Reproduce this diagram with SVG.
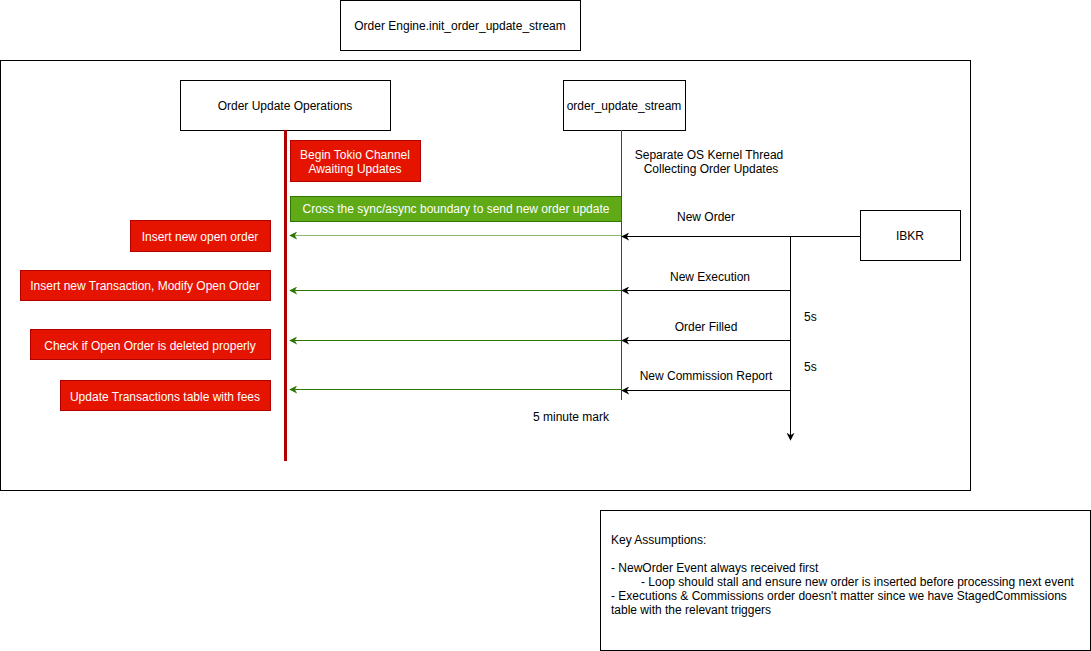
<svg xmlns="http://www.w3.org/2000/svg" width="1091" height="651" viewBox="0 0 1091 651">
<defs>
<style>
text{font-family:"Liberation Sans",Arial,sans-serif;font-size:12px;fill:#000}
.c{text-anchor:middle}
.w{fill:#fff}
.box{fill:#fff;stroke:#000;stroke-width:1}
.red{fill:#E51400;stroke:#B20000;stroke-width:1}
.grn{fill:#60A917;stroke:#2D7600;stroke-width:1}
.ga{stroke:#2D7600;stroke-width:1;fill:none;marker-end:url(#ag)}
.ba{stroke:#000;stroke-width:1;fill:none;marker-end:url(#ab)}
</style>
<marker id="ag" viewBox="0 0 10 10" refX="9" refY="5" markerWidth="8" markerHeight="8" markerUnits="userSpaceOnUse" orient="auto">
<path d="M0,0 L10,5 L0,10 L3,5 Z" fill="#2D7600"/>
</marker>
<marker id="ab" viewBox="0 0 10 10" refX="9" refY="5" markerWidth="8" markerHeight="8" markerUnits="userSpaceOnUse" orient="auto">
<path d="M0,0 L10,5 L0,10 L3,5 Z" fill="#000"/>
</marker>
</defs>
<rect width="1091" height="651" fill="#fff"/>

<g id="frame"><rect x="0.5" y="60.5" width="970" height="430" fill="none" stroke="#000"/></g>

<g id="title"><rect class="box" x="340.5" y="0.5" width="240" height="50"/><text class="c" x="460" y="30">Order Engine.init_order_update_stream</text></g>

<g id="ops"><rect class="box" x="180.5" y="80.5" width="210" height="50"/><text class="c" x="285" y="110">Order Update Operations</text></g>

<g id="stream"><rect class="box" x="563.5" y="80.5" width="122" height="50"/><text class="c" x="624" y="110">order_update_stream</text></g>

<g id="lifelines">
<line x1="285.5" y1="130" x2="285.5" y2="461" stroke="#B20000" stroke-width="3"/>
<line x1="621.5" y1="130" x2="621.5" y2="400" stroke="#444" stroke-width="1"/>
</g>

<g id="tokio"><rect class="red" x="290.5" y="140.5" width="130" height="41"/><text class="c w" x="355" y="159">Begin Tokio Channel</text><text class="c w" x="355" y="173">Awaiting Updates</text></g>

<g id="cross"><rect class="grn" x="290.5" y="196.5" width="331" height="25"/><text class="c w" x="456" y="213">Cross the sync/async boundary to send new order update</text></g>

<g id="op1"><rect class="red" x="130.5" y="220.5" width="140" height="31"/><text class="c w" x="200" y="241">Insert new open order</text></g>
<g id="op2"><rect class="red" x="20.5" y="270.5" width="250" height="30"/><text class="c w" x="145" y="290">Insert new Transaction, Modify Open Order</text></g>
<g id="op3"><rect class="red" x="30.5" y="329.5" width="240" height="30"/><text class="c w" x="150" y="350">Check if Open Order is deleted properly</text></g>
<g id="op4"><rect class="red" x="60.5" y="380.5" width="210" height="30"/><text class="c w" x="165" y="401">Update Transactions table with fees</text></g>

<g id="ibkr"><rect class="box" x="860.5" y="210.5" width="100" height="50"/><text class="c" x="910" y="240">IBKR</text></g>

<g id="notes"><rect class="box" x="600.5" y="510.5" width="490" height="140"/>
<text x="611" y="544">Key Assumptions:</text>
<text x="611" y="572">- NewOrder Event always received first</text>
<text x="641" y="586">- Loop should stall and ensure new order is inserted before processing next event</text>
<text x="611" y="600">- Executions &amp; Commissions order doesn't matter since we have StagedCommissions</text>
<text x="611" y="614">table with the relevant triggers</text>
</g>

<g id="connectors">
<line class="ga" x1="621" y1="235.5" x2="290" y2="235.5" stroke="#82b366" style="stroke:#8DBB6E"/>
<line class="ga" x1="621" y1="290.5" x2="290" y2="290.5"/>
<line class="ga" x1="621" y1="340.5" x2="290" y2="340.5"/>
<line class="ga" x1="621" y1="389.5" x2="290" y2="389.5"/>
<line class="ba" x1="860" y1="236.5" x2="622" y2="236.5"/>
<line class="ba" x1="790.5" y1="236" x2="790.5" y2="440"/>
<line class="ba" x1="790" y1="290.5" x2="622" y2="290.5"/>
<line class="ba" x1="790" y1="340.5" x2="622" y2="340.5"/>
<line class="ba" x1="790" y1="390.5" x2="622" y2="390.5"/>
</g>

<g id="labels">
<text class="c" x="709" y="159">Separate OS Kernel Thread</text>
<text class="c" x="711" y="173">Collecting Order Updates</text>
<text class="c" x="706" y="221">New Order</text>
<text class="c" x="710" y="281">New Execution</text>
<text class="c" x="706" y="331">Order Filled</text>
<text class="c" x="706" y="380">New Commission Report</text>
<text x="804" y="321">5s</text>
<text x="804" y="371">5s</text>
<text class="c" x="571" y="421">5 minute mark</text>
</g>
</svg>
